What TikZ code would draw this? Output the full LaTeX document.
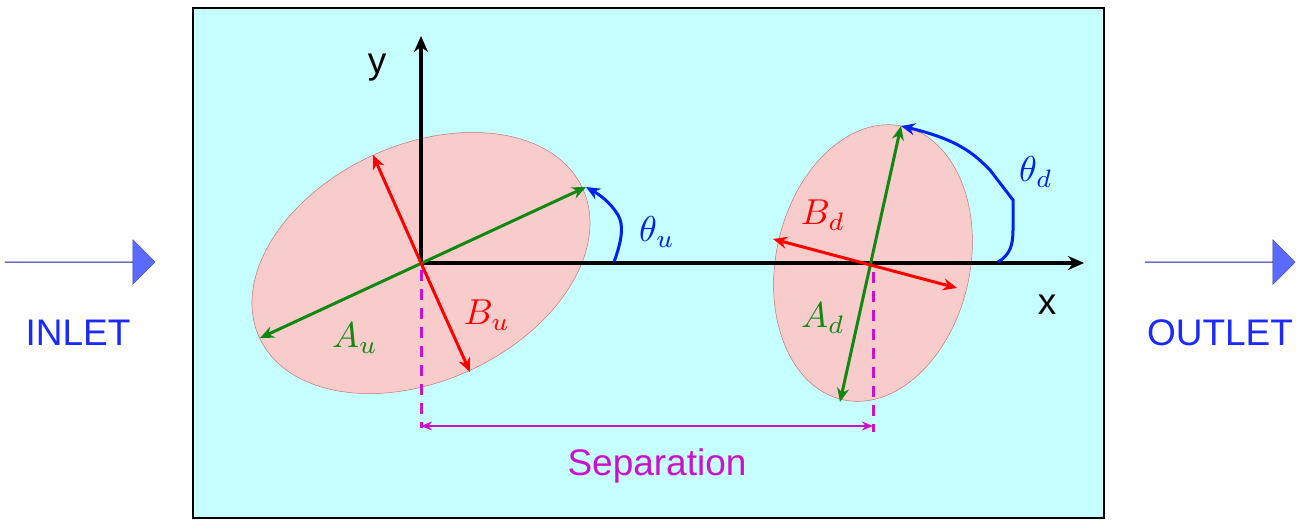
\documentclass[tikz,border=0pt]{standalone}
\usepackage{fontspec}
\setmainfont{Liberation Sans}
\usetikzlibrary{arrows.meta,shapes.arrows}
\definecolor{bg}{HTML}{C6FFFF}
\definecolor{ell}{HTML}{F9CCCC}
\definecolor{gr}{HTML}{118811}
\definecolor{bl}{HTML}{0022EE}
\definecolor{mg}{HTML}{CC11CC}
\definecolor{inl}{HTML}{5B6BFF}
\definecolor{lbl}{HTML}{1A2AFF}
\begin{document}
\begin{tikzpicture}[x=1pt,y=-1pt,
  arr/.style={line width=3pt,-{Stealth[length=14pt,width=12pt]}},
  dbl/.style={line width=3pt,{Stealth[length=14pt,width=12pt]}-{Stealth[length=14pt,width=12pt]}},
  big/.style={scale=3.6},
  sans/.style={font=\fontsize{37}{40}\selectfont},
  barrow/.style={single arrow,fill=inl,draw=inl!60!black,line width=0.5pt,minimum height=150pt,minimum width=26pt,single arrow head extend=22pt,single arrow tip angle=90,inner sep=0pt}]
\useasboundingbox (0,0) rectangle (1300,525);
\draw[line width=2.5pt,fill=bg] (193,8) rectangle (1104,518);
\coordinate (cu) at (421,263);
\coordinate (cd) at (873,263);
\draw[ell!70!red!80!black,line width=0.5pt,fill=ell,rotate around={24.8:(cu)}] (cu) ellipse [x radius=178,y radius=118];
\draw[ell!70!red!80!black,line width=0.5pt,fill=ell,rotate around={77.6:(cd)}] (cd) ellipse [x radius=140,y radius=97];
% axes
\coordinate (yt) at (421,36);
\coordinate (xt) at (1084,263);
\draw[line width=3.5pt,-{Stealth[length=16pt,width=14pt]}] (cu) -- (yt);
\draw[line width=3.5pt,-{Stealth[length=16pt,width=14pt]}] (cu) -- (xt);
\node[sans] (ylab) at (377,68) {y};
\node[sans] (xlab) at (1047,305) {x};
% upstream
\coordinate (au1) at (260,338); \coordinate (au2) at (586,187);
\coordinate (bu1) at (373,155); \coordinate (bu2) at (470,372);
\draw[gr,dbl] (au1) -- (au2);
\draw[red,arr] (cu) -- (bu1);
\draw[red,arr] (cu) -- (bu2);
\node[gr,big] (Au) at (355,338) {$A_u$};
\node[red,big] (Bu) at (487,315) {$B_u$};
\coordinate (tu0) at (614,262);
\draw[bl,arr] (tu0) .. controls (622,240) and (624,225) .. (618,215) .. controls (610,202) and (600,195) .. (au2);
\node[bl,big] (Tu) at (657,232) {$\theta_u$};
% downstream
\coordinate (ad1) at (840,402); \coordinate (ad2) at (901,126);
\coordinate (bd1) at (773,239); \coordinate (bd2) at (957,288);
\draw[gr,dbl] (ad1) -- (ad2);
\draw[red,dbl] (bd1) -- (bd2);
\node[red,big] (Bd) at (823,215) {$B_d$};
\node[gr,big] (Ad) at (823,318) {$A_d$};
\coordinate (td0) at (998,262);
\draw[bl,arr] (td0) .. controls (1010,255) and (1013,245) .. (1013,230) -- (1013,200) -- (990,170) .. controls (975,155) and (960,140) .. (ad2);
\node[bl,big] (Td) at (1036,172) {$\theta_d$};
% separation
\coordinate (s1top) at (421,270);
\coordinate (s1) at (421,428); \coordinate (s2) at (873,432);
\coordinate (s1a) at (421,426); \coordinate (s2a) at (873,426);
\coordinate (dtop) at (873,272);
\draw[mg,line width=3pt,dash pattern=on 11pt off 8pt] (s1top) -- (s1);
\draw[mg,line width=3pt,dash pattern=on 11pt off 8pt] (dtop) -- (s2);
\draw[mg,line width=2pt,{Stealth[length=11pt,width=9pt]}-{Stealth[length=11pt,width=9pt]}] (s1a) -- (s2a);
\node[mg,sans] (sep) at (657,466) {Separation};
% inlet / outlet
\node[barrow] (inarr) at (80,262) {};
\node[barrow] (outarr) at (1220,262) {};
\node[lbl,sans] (inlab) at (78,333) {INLET};
\node[lbl,sans] (outlab) at (1220,333) {OUTLET};
\end{tikzpicture}
\end{document}
